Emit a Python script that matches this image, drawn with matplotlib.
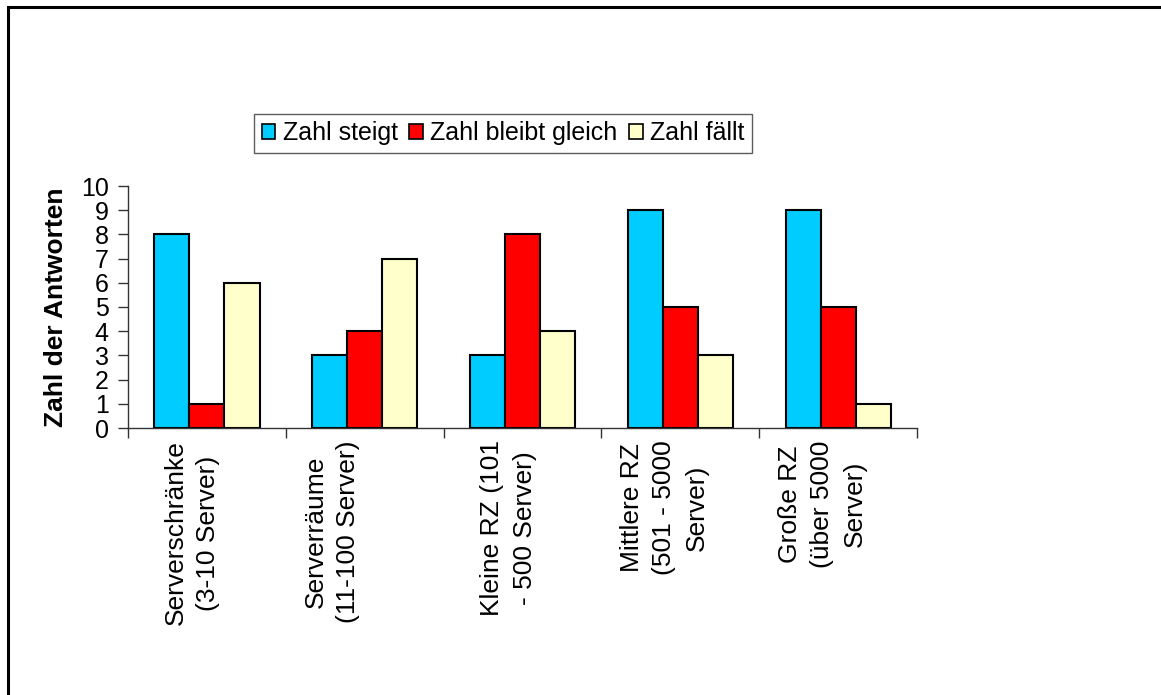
import numpy as np
import matplotlib
matplotlib.use("Agg")
import matplotlib.pyplot as plt
import matplotlib.transforms as mtransforms
from matplotlib.patches import Rectangle

plt.rcParams['font.family'] = ['Liberation Sans', 'DejaVu Sans']

categories = ["Serverschränke\n(3-10 Server)",
              "Serverräume\n(11-100 Server)",
              "Kleine RZ (101\n- 500 Server)",
              "Mittlere RZ\n(501 - 5000\nServer)",
              "Große RZ\n(über 5000\nServer)"]
series_names = ["Zahl steigt", "Zahl bleibt gleich", "Zahl fällt"]
steigt = [8, 3, 3, 9, 9]
gleich = [1, 4, 8, 5, 5]
faellt = [6, 7, 4, 3, 1]
colors = ["#00CCFF", "#FF0000", "#FFFFCC"]

fig = plt.figure(figsize=(11.61, 6.95), dpi=100)
ax = fig.add_axes([128 / 1161, 1 - 428 / 695, (917 - 128) / 1161, (428 - 186) / 695])

x = np.arange(len(categories))
w = 1 / 4.5
for k, vals in enumerate([steigt, gleich, faellt]):
    ax.bar(x + (k - 1) * w, vals, w, color=colors[k], edgecolor="black",
           linewidth=1.5, label=series_names[k])

ax.set_xlim(-0.5, len(categories) - 0.5)
ax.set_ylim(0, 10)
ax.set_yticks(range(0, 11))
ax.tick_params(axis="y", labelsize=18, length=7, width=1, direction="out", pad=7,
               colors="#333333", labelcolor="black")

ax.set_xticks(x)
ax.set_xticklabels(categories, rotation=90, fontsize=19, va="top", ha="center",
                   multialignment="center", linespacing=1.45)
ax.tick_params(axis="x", length=0, pad=9)
ax.set_xticks(np.arange(-0.5, len(categories)), minor=True)
ax.tick_params(axis="x", which="minor", length=7, width=1, direction="out", colors="#333333")
# horizontal offset of each label block (px), like the original Excel layout
label_shift = [-15, -33, -14, -16, -16]
for lab, s in zip(ax.get_xticklabels(), label_shift):
    lab.set_transform(lab.get_transform() + mtransforms.ScaledTranslation(s / 100, 0, fig.dpi_scale_trans))

for side in ["top", "right"]:
    ax.spines[side].set_visible(False)
for side in ["left", "bottom"]:
    ax.spines[side].set_color("#333333")
    ax.spines[side].set_linewidth(1)

ax.set_ylabel("Zahl der Antworten", fontsize=19, fontweight="bold", labelpad=9)

leg = fig.legend(loc="center", bbox_to_anchor=(503 / 1161, 1 - 133 / 695), ncol=3,
                 fontsize=18, frameon=True, fancybox=False, shadow=False,
                 handlelength=0.55, handleheight=0.55, handletextpad=0.3,
                 columnspacing=0.45, borderpad=0.3, borderaxespad=0)
leg.get_frame().set_edgecolor("#333333")
leg.get_frame().set_linewidth(1)
for h in leg.legend_handles:
    h.set_linewidth(1.2)

# outer chart frame (only left and top edge visible)
fig.add_artist(Rectangle((8 / 1161, -0.2), 1.2, 1.2 - 7 / 695,
                         transform=fig.transFigure, fill=False,
                         edgecolor="black", linewidth=2.2))

fig.savefig("out.png", dpi=100)
